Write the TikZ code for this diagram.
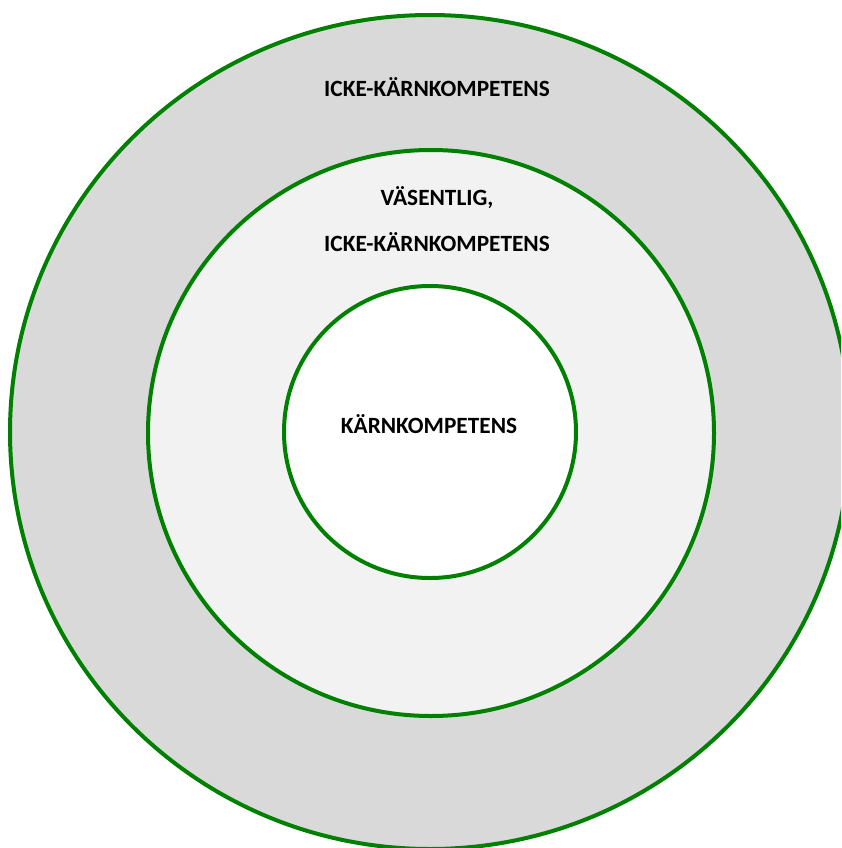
\documentclass[tikz,border=0pt]{standalone}
\usepackage{fontspec}
\setmainfont{Carlito}
\usepackage{tikz}
\definecolor{ringgreen}{RGB}{0,128,0}
\definecolor{outergray}{RGB}{217,217,217}
\definecolor{middlegray}{RGB}{242,242,242}
\tikzset{
  ring/.style={draw=ringgreen, line width=4pt},
  ringlabel/.style={font=\fontsize{23.3}{23.3}\selectfont\bfseries, inner sep=0pt, anchor=center}
}
\begin{document}
\begin{tikzpicture}[x=1pt, y=-1pt]
			%%%%% START %%%%%
			\useasboundingbox (0, 0) rectangle (841, 848);
			\clip (0, 0) rectangle (841, 848);
			
			\draw[ring, fill=outergray] (430, 432) ellipse [x radius=420, y radius=417];
			\draw[ring, fill=middlegray] (431, 433) circle [radius=283];
			\draw[ring, fill=white] (430, 432) circle [radius=146];
			
			\node[ringlabel] (outertext) at (437, 87) {ICKE-KÄRNKOMPETENS};
			\node[ringlabel] (middletop) at (437, 198) {VÄSENTLIG,};
			\node[ringlabel] (middlebottom) at (437, 242) {ICKE-KÄRNKOMPETENS};
			\node[ringlabel] (innertext) at (429, 424) {KÄRNKOMPETENS};
			%%%%% END %%%%%
\end{tikzpicture}
\end{document}
